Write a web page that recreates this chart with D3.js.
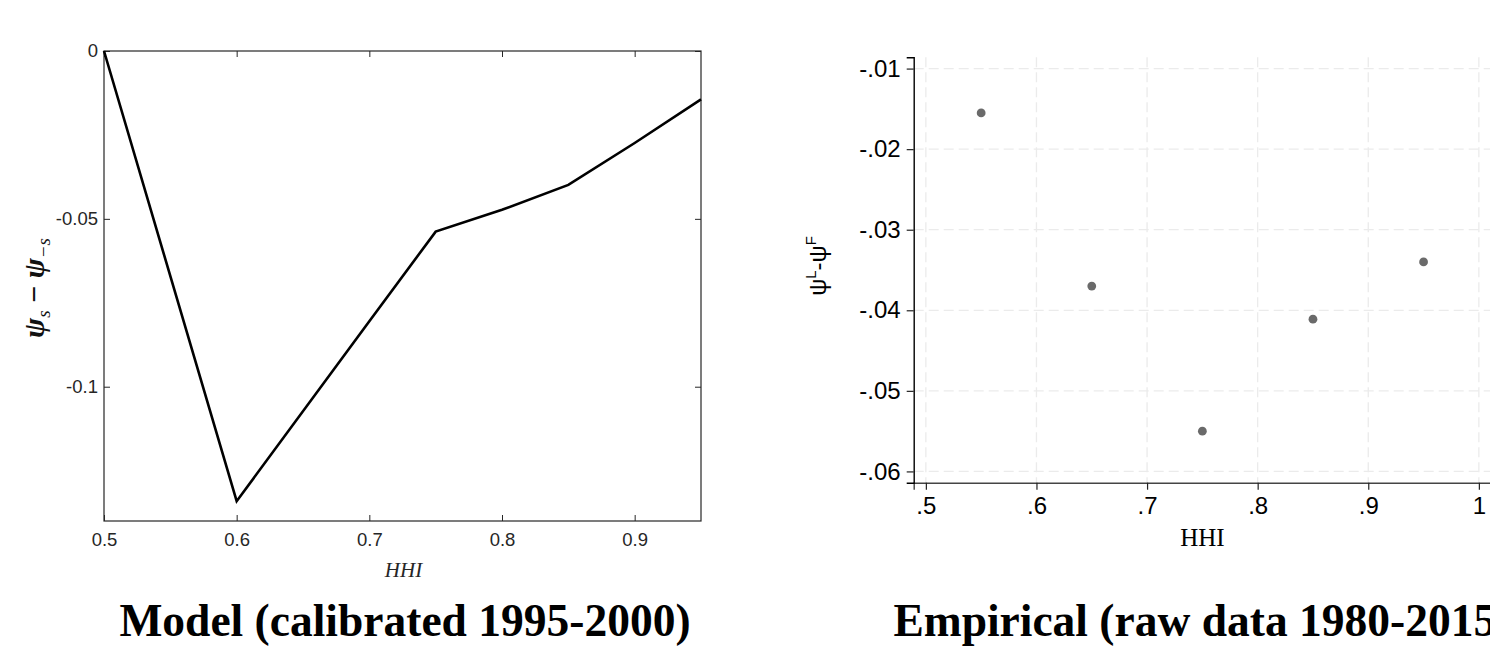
<!DOCTYPE html>
<html>
<head>
<meta charset="utf-8">
<script src="https://cdn.jsdelivr.net/npm/d3@7"></script>
<style>
  body { margin: 0; background: #fff; }
  svg { display: block; }
</style>
</head>
<body>
<div id="chart"></div>
<script>
// left panel: model line
const modelHHI = [0.5, 0.6, 0.7, 0.75, 0.8, 0.85, 0.9, 0.95];
const modelGap = [0, -0.1341, -0.0805, -0.0538, -0.0473, -0.0399, -0.0274, -0.0144];
const modelXTicks = [0.5, 0.6, 0.7, 0.8, 0.9];
const modelYTicks = [-0.1, -0.05, 0];

// right panel: empirical scatter
const empHHI = [0.55, 0.65, 0.75, 0.85, 0.95];
const empGap = [-0.0155, -0.0370, -0.0550, -0.0411, -0.0340];
const empXTicks = [0.5, 0.6, 0.7, 0.8, 0.9, 1];
const empYTicks = [-0.06, -0.05, -0.04, -0.03, -0.02, -0.01];

const svg = d3.select("#chart")
              .append("svg")
              .attr("width", 1490)
              .attr("height", 646);

const sans = "'Liberation Sans', Arial, Helvetica, sans-serif";
const serif = "'Liberation Serif', 'Times New Roman', serif";

// ---------- left: MATLAB-style box ----------
const L = {left: 104, right: 701, top: 51, bottom: 521};
const xL = d3.scaleLinear().domain([0.5, 0.95]).range([L.left, L.right]);
const yL = d3.scaleLinear().domain([-0.14, 0]).range([L.bottom, L.top]);
const axisCol = "#262626";

const gL = svg.append("g");

const styleAxis = (g, labels) => {
  g.select(".domain").remove();
  g.selectAll(".tick line").attr("stroke", axisCol).attr("stroke-width", 1);
  g.selectAll(".tick text")
   .attr("fill", labels ? axisCol : "none")
   .style("font-family", sans)
   .style("font-size", "18.5px");
};

gL.append("g")
  .attr("transform", `translate(0,${L.bottom})`)
  .call(d3.axisBottom(xL).tickValues(modelXTicks).tickSizeInner(-6).tickSizeOuter(0)
          .tickPadding(12).tickFormat(d => String(d)))
  .call(g => styleAxis(g, true));

gL.append("g")
  .attr("transform", `translate(0,${L.top})`)
  .call(d3.axisTop(xL).tickValues(modelXTicks).tickSizeInner(-6).tickSizeOuter(0).tickFormat(""))
  .call(g => styleAxis(g, false));

gL.append("g")
  .attr("transform", `translate(${L.left},0)`)
  .call(d3.axisLeft(yL).tickValues(modelYTicks).tickSizeInner(-6).tickSizeOuter(0)
          .tickPadding(6).tickFormat(d => d === 0 ? "0" : String(d)))
  .call(g => styleAxis(g, true));

gL.append("g")
  .attr("transform", `translate(${L.right},0)`)
  .call(d3.axisRight(yL).tickValues(modelYTicks).tickSizeInner(-6).tickSizeOuter(0).tickFormat(""))
  .call(g => styleAxis(g, false));

gL.append("rect")
  .attr("x", L.left).attr("y", L.top)
  .attr("width", L.right - L.left).attr("height", L.bottom - L.top)
  .attr("fill", "none").attr("stroke", axisCol).attr("stroke-width", 1.2);

const modelData = modelHHI.map((h, i) => ({h, v: modelGap[i]}));
gL.append("path")
  .datum(modelData)
  .attr("fill", "none")
  .attr("stroke", "#000")
  .attr("stroke-width", 2.6)
  .attr("stroke-linejoin", "miter")
  .attr("d", d3.line().x(d => xL(d.h)).y(d => yL(d.v)));

gL.append("text")
  .attr("x", (L.left + L.right) / 2 + 1)
  .attr("y", 577)
  .attr("text-anchor", "middle")
  .style("font-family", serif)
  .style("font-style", "italic")
  .style("font-size", "21px")
  .attr("fill", axisCol)
  .text("HHI");

// y label: ψ_s − ψ_{−s}
const ylab = gL.append("text")
  .attr("transform", `translate(44,${(L.top + L.bottom) / 2 + 2}) rotate(-90)`)
  .attr("text-anchor", "middle")
  .style("font-family", serif)
  .style("font-weight", "bold")
  .style("font-size", "30px")
  .attr("fill", "#111");
ylab.append("tspan").style("font-style", "italic").text("ψ");
ylab.append("tspan").style("font-style", "italic").style("font-weight", "normal")
    .style("font-size", "19px").attr("dy", 6).text("s");
ylab.append("tspan").attr("dy", -6).text(" − ");
ylab.append("tspan").style("font-style", "italic").text("ψ");
ylab.append("tspan").style("font-style", "italic").style("font-weight", "normal")
    .style("font-size", "19px").attr("dy", 6).text("−s");

svg.append("text")
   .attr("x", 405)
   .attr("y", 636)
   .attr("text-anchor", "middle")
   .style("font-family", serif)
   .style("font-weight", "bold")
   .style("font-size", "45.5px")
   .attr("fill", "#000")
   .text("Model (calibrated 1995-2000)");

// ---------- right: Stata-style scatter ----------
const R = {left: 913.7, top: 57.3, bottom: 482.7};
const xR = d3.scaleLinear().domain([0.489, 1.011]).range([R.left, R.left + 0.522 * 1106]);
const yR = d3.scaleLinear().domain([-0.0614, -0.0086]).range([R.bottom, R.top]);
const R_right = xR.range()[1];

const gR = svg.append("g");

// gridlines
gR.selectAll(".hgrid")
  .data(empYTicks)
  .enter()
  .append("line")
  .attr("class", "hgrid")
  .attr("x1", R.left).attr("x2", R_right)
  .attr("y1", d => yR(d)).attr("y2", d => yR(d))
  .attr("stroke", "#ebebeb").attr("stroke-width", 1.3)
  .attr("stroke-dasharray", "10,5");

gR.selectAll(".vgrid")
  .data(empXTicks)
  .enter()
  .append("line")
  .attr("class", "vgrid")
  .attr("x1", d => xR(d)).attr("x2", d => xR(d))
  .attr("y1", R.top).attr("y2", R.bottom)
  .attr("stroke", "#ebebeb").attr("stroke-width", 1.3)
  .attr("stroke-dasharray", "10,5");

const stataFmt = d => String(d).replace("0.", ".");

gR.append("g")
  .attr("transform", `translate(0,${R.bottom})`)
  .call(d3.axisBottom(xR).tickValues(empXTicks).tickSize(7).tickPadding(7).tickFormat(stataFmt))
  .call(g => {
    g.select(".domain").attr("stroke", "#444").attr("stroke-width", 1.4);
    g.selectAll(".tick line").attr("stroke", "#222").attr("stroke-width", 1.2);
    g.selectAll(".tick text").attr("fill", "#000")
     .style("font-family", sans).style("font-size", "24px");
  });

gR.append("g")
  .attr("transform", `translate(${R.left},0)`)
  .call(d3.axisLeft(yR).tickValues(empYTicks).tickSize(7).tickPadding(6).tickFormat(stataFmt))
  .call(g => {
    g.select(".domain").attr("stroke", "#000").attr("stroke-width", 1.4);
    g.selectAll(".tick line").attr("stroke", "#222").attr("stroke-width", 1.2);
    g.selectAll(".tick text").attr("fill", "#000")
     .style("font-family", sans).style("font-size", "24px");
  });

gR.selectAll(".dot")
  .data(empHHI.map((h, i) => ({h, v: empGap[i]})))
  .enter()
  .append("circle")
  .attr("class", "dot")
  .attr("cx", d => xR(d.h))
  .attr("cy", d => yR(d.v))
  .attr("r", 4.4)
  .attr("fill", "#6a6a6a");

gR.append("text")
  .attr("x", (R.left + R_right) / 2)
  .attr("y", 546)
  .attr("text-anchor", "middle")
  .style("font-family", serif)
  .style("font-size", "25px")
  .attr("fill", "#000")
  .text("HHI");

const ylabR = gR.append("text")
  .attr("transform", `translate(826,${(R.top + R.bottom) / 2 - 4}) rotate(-90)`)
  .attr("text-anchor", "middle")
  .style("font-family", sans)
  .style("font-size", "24px")
  .attr("fill", "#000");
ylabR.append("tspan").text("ψ");
ylabR.append("tspan").style("font-size", "15px").attr("dy", -10).text("L");
ylabR.append("tspan").attr("dy", 10).text("-ψ");
ylabR.append("tspan").style("font-size", "15px").attr("dy", -10).text("F");

svg.append("text")
   .attr("x", (R.left + R_right) / 2)
   .attr("y", 636)
   .attr("text-anchor", "middle")
   .style("font-family", serif)
   .style("font-weight", "bold")
   .style("font-size", "45.5px")
   .attr("fill", "#000")
   .text("Empirical (raw data 1980-2015)");
</script>
</body>
</html>
